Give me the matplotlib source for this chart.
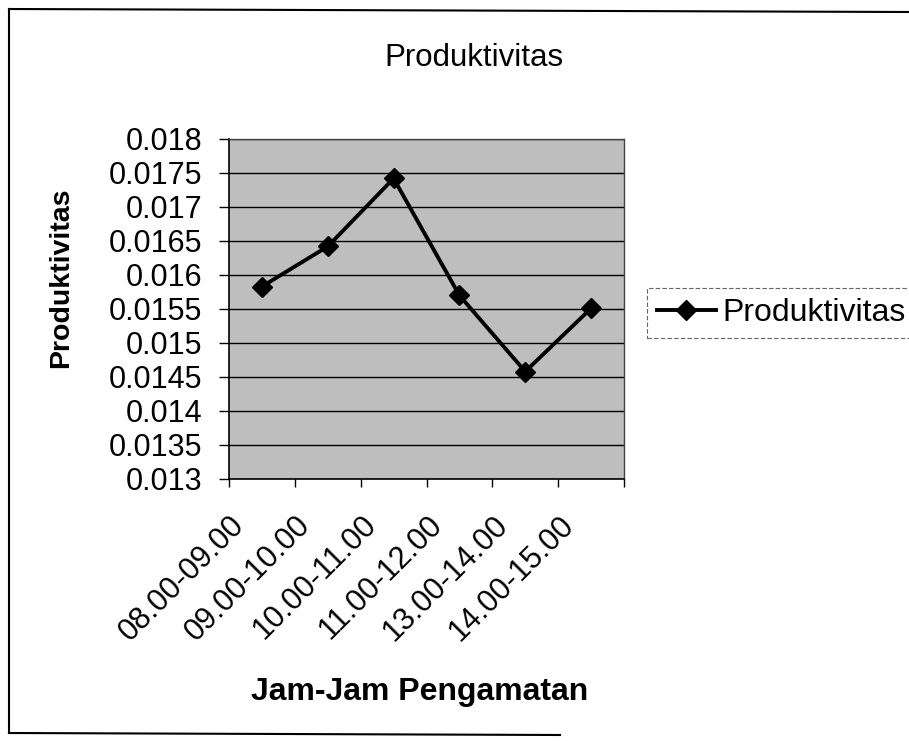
import matplotlib.pyplot as plt
import matplotlib.transforms as mtransforms
from matplotlib.lines import Line2D

plt.rcParams['font.family'] = ['Liberation Sans', 'DejaVu Sans']

# data
jam = ['08.00-09.00', '09.00-10.00', '10.00-11.00',
       '11.00-12.00', '13.00-14.00', '14.00-15.00']
produktivitas = [0.01583, 0.01642, 0.01742, 0.01570, 0.01458, 0.01551]
y_ticks = [0.013, 0.0135, 0.014, 0.0145, 0.015, 0.0155,
           0.016, 0.0165, 0.017, 0.0175, 0.018]
y_tick_labels = ['0.013', '0.0135', '0.014', '0.0145', '0.015', '0.0155',
                 '0.016', '0.0165', '0.017', '0.0175', '0.018']

W, H = 909, 741
fig = plt.figure(figsize=(W / 100, H / 100), dpi=100)
fig.patch.set_facecolor('white')

# plot area in pixels: left 229, right 624, top 139, bottom 479
ax = fig.add_axes([229 / W, 1 - 479 / H, (624 - 229) / W, (479 - 139) / H])
ax.set_facecolor('#bebebe')

x = list(range(len(jam)))
line, = ax.plot(x, produktivitas, color='black', lw=2.8, marker='D',
                markersize=10, markerfacecolor='black', markeredgecolor='black',
                label='Produktivitas', zorder=3)

ax.set_xlim(-0.5, len(jam) - 0.5)
ax.set_ylim(0.013, 0.018)
ax.set_yticks(y_ticks)
ax.set_yticklabels(y_tick_labels)
ax.yaxis.grid(True, color='black', lw=1.0)
ax.set_axisbelow(True)

ax.tick_params(axis='y', direction='out', length=7, width=1, pad=12,
               labelsize=22, color='black')

# category ticks between the points, labels under the points
ax.set_xticks([i - 0.5 for i in range(len(jam) + 1)], minor=True)
ax.set_xticks(x)
ax.set_xticklabels(jam, rotation=45, ha='right', va='center',
                   rotation_mode='anchor', fontsize=22)
ax.tick_params(axis='x', which='major', length=0, pad=30)
ax.tick_params(axis='x', which='minor', direction='out', length=6, width=1)
shift = mtransforms.ScaledTranslation(-0.22, 0, fig.dpi_scale_trans)
for lbl in ax.get_xticklabels():
    lbl.set_transform(lbl.get_transform() + shift)

for side in ['left', 'bottom']:
    ax.spines[side].set_color('black')
    ax.spines[side].set_linewidth(1.2)
for side in ['top', 'right']:
    ax.spines[side].set_color('#444444')
    ax.spines[side].set_linestyle((0, (2, 1)))
    ax.spines[side].set_linewidth(1.0)

fig.text(474 / W, 1 - 66 / H, 'Produktivitas', ha='center', va='baseline',
         fontsize=22.5)
fig.text(61 / W, 1 - 278 / H, 'Produktivitas', ha='center', va='center',
         rotation=90, fontsize=20.5, fontweight='bold')
fig.text(420 / W, 1 - 700 / H, 'Jam-Jam Pengamatan', ha='center',
         va='baseline', fontsize=23, fontweight='bold')

leg = fig.legend(handles=[line], loc='center left',
                 bbox_to_anchor=(647 / W, 1 - 313 / H), fontsize=23,
                 handlelength=1.85, handletextpad=0.2, borderpad=0.3,
                 borderaxespad=0, fancybox=False, framealpha=1)
leg.get_frame().set_edgecolor('#666666')
leg.get_frame().set_linestyle((0, (4, 2)))
leg.get_frame().set_linewidth(0.8)

# outer chart border (right edge falls outside the scan)
fig.add_artist(Line2D([9 / W, 1.0], [1 - 9 / H, 1 - 12 / H],
                      transform=fig.transFigure, color='black', lw=1.5))
fig.add_artist(Line2D([9 / W, 9 / W], [1 - 9 / H, 1 - 733 / H],
                      transform=fig.transFigure, color='black', lw=1.5))
fig.add_artist(Line2D([9 / W, 560 / W], [1 - 733 / H, 1 - 735 / H],
                      transform=fig.transFigure, color='black', lw=1.5))

fig.savefig('out.png', dpi=100)
